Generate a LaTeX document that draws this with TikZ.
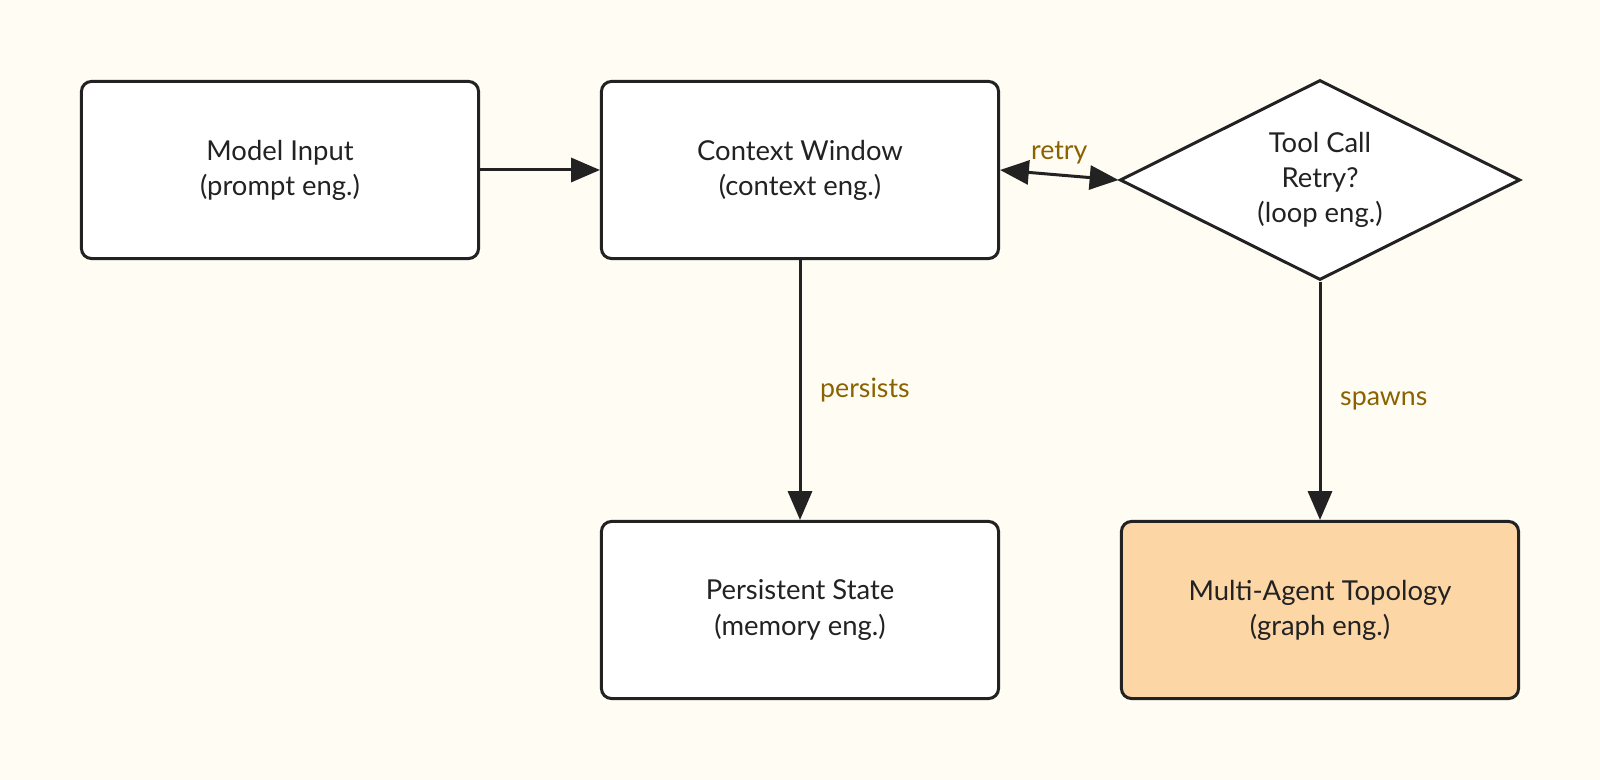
\documentclass[tikz,border=0pt]{standalone}
\usepackage{fontspec}
\setmainfont{Lato}
\usetikzlibrary{shapes.geometric,arrows.meta}
\definecolor{bgc}{HTML}{FFFCF4}
\definecolor{linec}{HTML}{222222}
\definecolor{orangec}{HTML}{FDD6A6}
\definecolor{labc}{HTML}{8A6200}
\tikzset{
  px/.style={x=0.025cm,y=-0.025cm},
  box/.style={draw=linec,line width=0.075cm,rounded corners=0.25cm,fill=white,minimum width=10cm-0.075cm,minimum height=4.5cm-0.075cm,align=center,font=\fontsize{19.5}{25}\selectfont,text=linec},
  dia/.style={draw=linec,line width=0.075cm,fill=white,diamond,aspect=2,minimum width=10cm,minimum height=5cm,inner sep=0pt,align=center,font=\fontsize{19.5}{25}\selectfont,text=linec},
  conn/.style={draw=linec,line width=0.075cm,-{Triangle[length=0.72cm,width=0.6cm]}},
  lab/.style={text=labc,font=\fontsize{19}{22}\selectfont}
}
\begin{document}
\begin{tikzpicture}[px]
\fill[bgc] (0,0) rectangle (1600,780);
\useasboundingbox (0,0) rectangle (1600,780);
\node[box] (mi) at (280,170) {Model Input\\(prompt eng.)};
\node[box] (cw) at (800,170) {Context Window\\(context eng.)};
\node[dia] (tc) at (1320,180) {Tool Call\\Retry?\\(loop eng.)};
\node[box] (ps) at (800,610) {Persistent State\\(memory eng.)};
\node[box,fill=orangec] (ma) at (1320,610) {Multi-Agent Topology\\(graph eng.)};
\draw[conn] (mi.east) -- (cw.west);
\draw[conn] (cw.south) -- node[lab,right,xshift=0.35cm,pos=0.5] {persists} (ps.north);
\draw[conn,{Triangle[length=0.72cm,width=0.6cm]}-{Triangle[length=0.72cm,width=0.6cm]}] (cw.east) -- node[lab,above,yshift=0.12cm] {retry} (tc.west);
\draw[conn] (tc.south) -- node[lab,right,xshift=0.35cm,pos=0.5] {spawns} (ma.north);
\end{tikzpicture}
\end{document}
